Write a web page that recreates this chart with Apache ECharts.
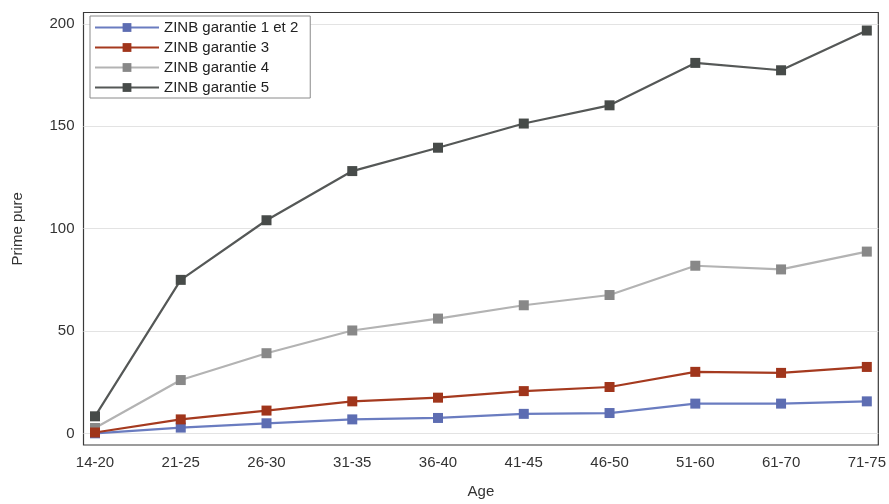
<!DOCTYPE html>
<html>
<head>
<meta charset="utf-8">
<script src="https://cdn.jsdelivr.net/npm/echarts@6/dist/echarts.min.js"></script>
<style>
html,body{margin:0;padding:0;background:#fff;}
#chart{width:889px;height:504px;}
</style>
</head>
<body>
<div id="chart"></div>
<script>
const categories = ['14-20','21-25','26-30','31-35','36-40','41-45','46-50','51-60','61-70','71-75'];
const seriesNames = ['ZINB garantie 1 et 2','ZINB garantie 3','ZINB garantie 4','ZINB garantie 5'];
const g12 = [0.1, 2.9, 5.0, 6.9, 7.6, 9.6, 10.0, 14.6, 14.6, 15.7];
const g3  = [0.5, 6.9, 11.2, 15.7, 17.5, 20.7, 22.7, 30.1, 29.6, 32.5];
const g4  = [2.7, 26.1, 39.2, 50.3, 56.1, 62.6, 67.6, 81.9, 80.1, 88.8];
const g5  = [8.4, 75.0, 104.1, 128.1, 139.5, 151.3, 160.2, 180.9, 177.3, 196.7];
const yTicks = [0, 50, 100, 150, 200];

const lineColors = ['#6a7cc0', '#a53a1f', '#b3b3b3', '#555857'];
const markColors = ['#5d6db2', '#a0351b', '#888888', '#474b49'];
const zOrder = [13, 14, 12, 11];
const allData = [g12, g3, g4, g5];

const FONT = 'Liberation Sans, Arial, sans-serif';
const chart = echarts.init(document.getElementById('chart'));

const series = allData.map((d, i) => ({
  name: seriesNames[i],
  type: 'line',
  data: d.map((v, j) => [j, v]),
  symbol: 'rect',
  symbolSize: 10,
  z: zOrder[i],
  lineStyle: { color: lineColors[i], width: 2.2 },
  itemStyle: { color: markColors[i] },
  emphasis: { disabled: true },
  animation: false
}));
series.push({
  type: 'line',
  data: [],
  silent: true,
  z: 1,
  markLine: {
    silent: true,
    symbol: ['none', 'none'],
    label: { show: false },
    lineStyle: { color: '#e3e3e3', width: 1.2, type: 'solid' },
    data: yTicks.map(v => ({ yAxis: v })),
    animation: false
  }
});

chart.setOption({
  backgroundColor: '#ffffff',
  animation: false,
  textStyle: { fontFamily: FONT },
  grid: {
    left: 83.5, right: 9.5, top: 12.5, bottom: 56,
    show: true, borderColor: '#3a3a3a', borderWidth: 1.2, backgroundColor: 'transparent'
  },
  legend: {
    orient: 'vertical',
    left: 90, top: 16,
    z: 50,
    padding: [4, 12, 3, 4],
    itemWidth: 64, itemHeight: 11, itemGap: 5,
    borderColor: '#8a8a8a', borderWidth: 1, backgroundColor: '#fff',
    textStyle: { fontSize: 15, color: '#222', fontFamily: FONT },
    data: seriesNames
  },
  xAxis: {
    type: 'value',
    min: -0.134, max: 9.134,
    name: 'Age', nameLocation: 'middle', nameGap: 39,
    nameTextStyle: { fontSize: 15, color: '#333', fontFamily: FONT },
    axisLine: { show: false },
    axisTick: { show: false },
    splitLine: { show: false },
    axisLabel: {
      customValues: categories.map((c, i) => i),
      formatter: v => categories[Math.round(v)] || '',
      fontSize: 15, color: '#333', margin: 10, fontFamily: FONT
    }
  },
  yAxis: {
    type: 'value',
    min: -5.6, max: 205.5,
    name: 'Prime pure', nameLocation: 'middle', nameGap: 58, nameRotate: 90,
    nameTextStyle: { fontSize: 15, color: '#333', fontFamily: FONT },
    axisLine: { show: false },
    axisTick: { show: false },
    splitLine: { show: false },
    axisLabel: {
      customValues: yTicks,
      fontSize: 15, color: '#333', margin: 9, fontFamily: FONT
    }
  },
  series: series
});
</script>
</body>
</html>
